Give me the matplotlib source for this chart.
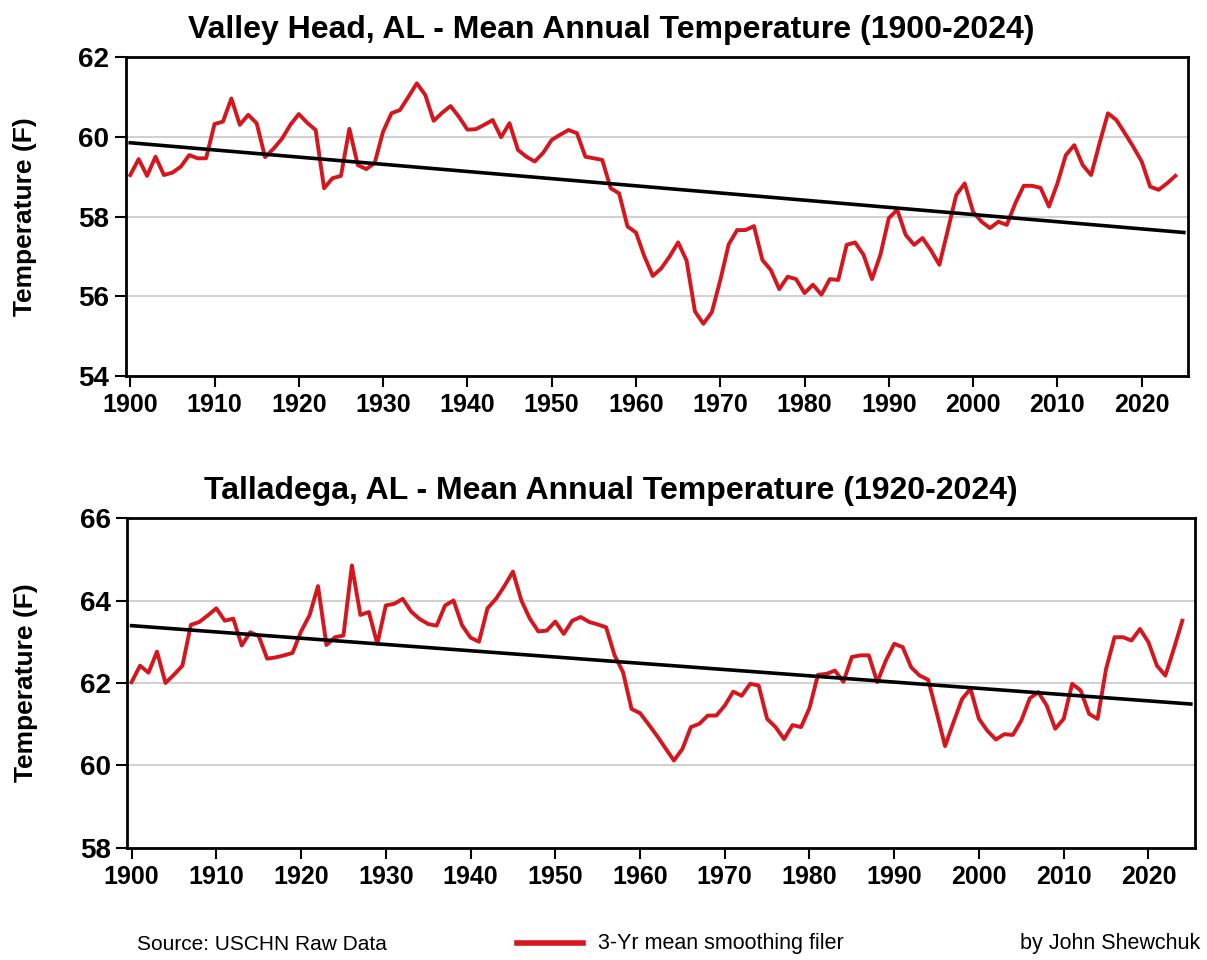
import numpy as np
import matplotlib
matplotlib.use("Agg")
import matplotlib.pyplot as plt
from matplotlib.lines import Line2D

plt.rcParams['font.family'] = ['Liberation Sans', 'DejaVu Sans']

years = list(range(1900, 2025))

# Valley Head, AL - 3-yr smoothed mean annual temperature (F)
valley_head = [
    59.04, 59.44, 59.02, 59.50, 59.04, 59.10, 59.25, 59.54, 59.46, 59.46,
    60.32, 60.38, 60.96, 60.30, 60.55, 60.34, 59.49, 59.70, 59.95, 60.30,
    60.57, 60.35, 60.17, 58.71, 58.96, 59.02, 60.20, 59.29, 59.19, 59.34,
    60.13, 60.59, 60.67, 61.00, 61.34, 61.05, 60.40, 60.60, 60.77, 60.50,
    60.18, 60.19, 60.30, 60.42, 59.99, 60.34, 59.67, 59.50, 59.38, 59.60,
    59.92, 60.05, 60.17, 60.09, 59.50, 59.46, 59.42, 58.71, 58.58, 57.75,
    57.60, 57.00, 56.51, 56.70, 57.00, 57.35, 56.90, 55.62, 55.31, 55.60,
    56.40, 57.30, 57.66, 57.66, 57.76, 56.91, 56.66, 56.18, 56.49, 56.43,
    56.08, 56.29, 56.04, 56.43, 56.41, 57.29, 57.35, 57.04, 56.43, 57.04,
    57.96, 58.17, 57.54, 57.29, 57.46, 57.15, 56.79, 57.66, 58.54, 58.83,
    58.12, 57.87, 57.71, 57.87, 57.79, 58.33, 58.77, 58.77, 58.72, 58.25,
    58.83, 59.54, 59.79, 59.29, 59.04, 59.84, 60.59, 60.42, 60.09, 59.75,
    59.38, 58.75, 58.67, 58.83, 59.02,
]

# Talladega, AL - 3-yr smoothed mean annual temperature (F)
talladega = [
    62.02, 62.42, 62.25, 62.76, 62.00, 62.20, 62.42, 63.41, 63.48, 63.64,
    63.81, 63.51, 63.56, 62.91, 63.23, 63.14, 62.59, 62.62, 62.67, 62.73,
    63.25, 63.64, 64.35, 62.92, 63.11, 63.15, 64.85, 63.65, 63.72, 62.95,
    63.88, 63.92, 64.04, 63.73, 63.55, 63.43, 63.39, 63.88, 64.00, 63.40,
    63.10, 63.00, 63.81, 64.04, 64.35, 64.70, 64.00, 63.56, 63.25, 63.27,
    63.49, 63.19, 63.51, 63.60, 63.48, 63.42, 63.35, 62.67, 62.26, 61.37,
    61.27, 61.00, 60.72, 60.42, 60.12, 60.40, 60.93, 61.01, 61.21, 61.21,
    61.45, 61.79, 61.69, 61.98, 61.94, 61.13, 60.93, 60.64, 60.98, 60.93,
    61.39, 62.20, 62.22, 62.30, 62.03, 62.63, 62.67, 62.67, 62.02, 62.54,
    62.95, 62.87, 62.38, 62.18, 62.08, 61.29, 60.47, 61.05, 61.61, 61.86,
    61.13, 60.84, 60.63, 60.76, 60.74, 61.09, 61.63, 61.78, 61.45, 60.89,
    61.13, 61.98, 61.82, 61.25, 61.13, 62.34, 63.11, 63.11, 63.03, 63.31,
    62.99, 62.42, 62.18, 62.83, 63.51,
]

# linear trend end points
trend_years = [1900, 2025]
valley_trend = [59.85, 57.60]
talladega_trend = [63.39, 61.49]

titles = ["Valley Head, AL - Mean Annual Temperature (1900-2024)",
          "Talladega, AL - Mean Annual Temperature (1920-2024)"]
ylims = [(54, 62), (58, 66)]
xticks = list(range(1900, 2030, 10))

red = '#d7151d'

fig = plt.figure(figsize=(12.07, 9.6), dpi=100)
ax1 = fig.add_axes([0.1044, 0.6083, 0.8799, 0.3323])
ax2 = fig.add_axes([0.1055, 0.1167, 0.8846, 0.3437])

for ax, series, trend, title, ylim, tx in [(ax1, valley_head, valley_trend, titles[0], ylims[0], 0.457),
                                           (ax2, talladega, talladega_trend, titles[1], ylims[1], 0.453)]:
    ax.plot(years, series, color=red, lw=2.8, zorder=3, solid_joinstyle='round')
    ax.plot(trend_years, trend, color='black', lw=2.6, zorder=4)
    ax.set_xlim(1899.5, 2025.5)
    ax.set_ylim(*ylim)
    ax.set_yticks(np.arange(ylim[0], ylim[1] + 1, 2))
    ax.set_xticks(xticks)
    ax.grid(axis='y', color='#c8c8c8', lw=1.2)
    ax.set_axisbelow(True)
    for s in ax.spines.values():
        s.set_linewidth(2)
    ax.tick_params(axis='both', direction='out', length=8, width=1.5, pad=4)
    ax.tick_params(axis='x', labelsize=18)
    ax.tick_params(axis='y', labelsize=20)
    for lab in ax.get_xticklabels() + ax.get_yticklabels():
        lab.set_fontweight('bold')
    ax.set_ylabel('Temperature (F)', fontsize=19, fontweight='bold', labelpad=30)
    ax.set_title(title, fontsize=23, fontweight='bold', pad=14, x=tx)

fig.text(137 / 1207, 1 - 944 / 960, 'Source: USCHN Raw Data', fontsize=15, va='center', ha='left')
fig.add_artist(Line2D([517 / 1207, 583 / 1207], [1 - 943 / 960, 1 - 943 / 960],
                      color=red, lw=4, transform=fig.transFigure))
fig.text(598 / 1207, 1 - 944 / 960, '3-Yr mean smoothing filer', fontsize=15.5, va='center', ha='left')
fig.text(1200 / 1207, 1 - 944 / 960, 'by John Shewchuk', fontsize=15.5, va='center', ha='right')

fig.savefig('out.png', dpi=100)
